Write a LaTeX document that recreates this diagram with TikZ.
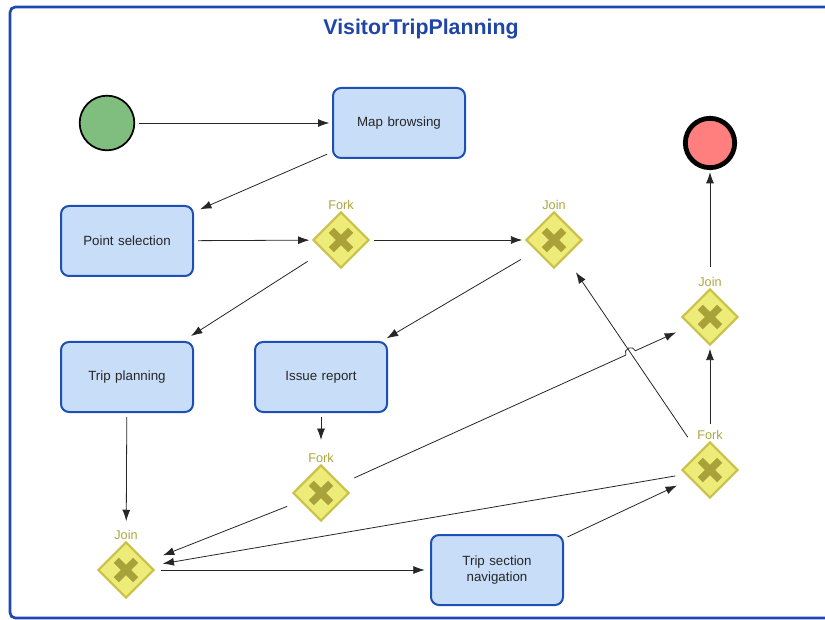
\documentclass[tikz,border=0pt]{standalone}
\usepackage{fontspec}
\setmainfont{Liberation Sans}
\usetikzlibrary{calc}
\usetikzlibrary{positioning}
\usetikzlibrary{shapes.geometric}
\usetikzlibrary{arrows.meta,intersections}
\definecolor{taskfill}{HTML}{C8DEF8}
\definecolor{taskdraw}{HTML}{1E4FB4}
\definecolor{gwfill}{HTML}{EEEC78}
\definecolor{gwdraw}{HTML}{C9C14A}
\definecolor{gwcross}{HTML}{A9A23A}
\definecolor{gwtext}{HTML}{ABA63E}
\definecolor{startfill}{HTML}{80BE80}
\definecolor{endfill}{HTML}{FF7F7F}
\definecolor{titleblue}{HTML}{1F45A8}
\definecolor{poolblue}{HTML}{1E48B0}
\tikzset{
	>={Latex[length=8.5pt,width=6pt]},
	task/.style={
		rectangle,
		rounded corners=6pt,
		fill=taskfill,
		draw=taskdraw, line width=1.5pt,
		minimum width=99pt,
		minimum height=52.5pt,
		text width=80pt,
		align=center,
		text=black!85,
		font=\fontsize{10}{12}\selectfont},
	gateway/.style={
		diamond, aspect=1,
		fill=gwfill,
		draw=gwdraw, line width=1.6pt,
		minimum width=42pt, minimum height=42pt,
		inner sep=0pt,
		path picture={
			\draw[gwcross, line width=5.5pt]
			(path picture bounding box.center) ++(-7.3pt,-7.3pt) -- ++(14.6pt,14.6pt)
			(path picture bounding box.center) ++(-7.3pt,7.3pt) -- ++(14.6pt,-14.6pt);}},
	gwlabel/.style={text=gwtext, inner sep=1pt, font=\fontsize{9.5}{11}\selectfont},
	startev/.style={circle, fill=startfill, draw=black, line width=1.3pt, minimum size=41pt, inner sep=0pt},
	endev/.style={circle, fill=endfill, draw=black, line width=3.6pt, minimum size=37pt, inner sep=0pt},
	flow/.style={->, draw=black!85, line width=0.6pt, shorten >=2pt, shorten <=3pt},
	pooltitle/.style={text=titleblue, font=\fontsize{16}{19}\selectfont\bfseries},
}

\begin{document}
\begin{tikzpicture}[x=0.75pt, y=-0.75pt]
	\useasboundingbox (0,0) rectangle (825,620);

	% pool frame, open on the right
	\draw[poolblue, line width=2pt, rounded corners=4pt] (840,7) -| (10,618) -- (840,618);
	\node[pooltitle] (title) at (421,29) {VisitorTripPlanning};

	% events
	\node[startev] (start) at (107,123) {};
	\node[endev] (end) at (710,143) {};

	% tasks
	\node[task] (map)   at (399,123) {Map browsing};
	\node[task] (point) at (127,241) {Point selection};
	\node[task] (trip)  at (127,377) {Trip planning};
	\node[task] (issue) at (321,377) {Issue report};
	\node[task] (nav)   at (497,570) {Trip section navigation};

	% gateways
	\node[gateway, label={[gwlabel]above:Fork}] (fork1) at (341,240) {};
	\node[gateway, label={[gwlabel]above:Join}] (join1) at (554,240) {};
	\node[gateway, label={[gwlabel]above:Join}] (join2) at (710,317) {};
	\node[gateway, label={[gwlabel]above:Fork}] (fork2) at (321,493) {};
	\node[gateway, label={[gwlabel]above:Fork}] (fork3) at (710,470) {};
	\node[gateway, label={[gwlabel]above:Join}] (join3) at (126,570) {};

	% sequence flows
	\draw[flow] (start) -- (map);
	\draw[flow, shorten <=4pt, shorten >=5pt] (map) -- (point);
	\draw[flow] (point) -- (fork1);
	\draw[flow] (fork1) -- (join1);
	\draw[flow, shorten <=14pt, shorten >=7pt] (fork1) -- (trip);
	\draw[flow, shorten <=13pt, shorten >=4pt] (join1) -- (issue);
	\draw[flow, shorten >=15pt] (trip) -- (join3);
	\draw[flow, shorten >=18pt] (issue) -- (fork2);
	\draw[flow, shorten <=10.5pt, shorten >=13pt] (fork2) -- (join3);
	\draw[flow, shorten <=14pt, shorten >=13.5pt] (fork3) -- (join1);
	\draw[flow, shorten <=13pt] (fork3) -- (join2);
	\draw[flow, shorten <=16pt, shorten >=1.5pt] (join2) -- (end);
	\draw[flow, shorten <=7.5pt, shorten >=9pt] (fork3) -- (join3);
	\draw[flow, shorten <=4.5pt, shorten >=4pt] (join3) -- (nav);
	\draw[flow, shorten >=11pt] (nav) -- (fork3);

	% the long flow hops over the one it crosses
	\path[name path=longflow] (fork2.center) -- (join2.center);
	\path[name path=backflow] (fork3.center) -- (join1.center);
	\path[name intersections={of=longflow and backflow, by=hop}];
	\draw[flow, shorten <=11pt, shorten >=0pt, -] (fork2) -- ($(hop)!4pt!(fork2)$);
	\draw[flow, shorten <=0pt, shorten >=11.5pt] ($(hop)!4pt!(fork2)$) arc[start angle=204.3, end angle=24.3, radius=4pt] -- (join2);
\end{tikzpicture}
\end{document}
